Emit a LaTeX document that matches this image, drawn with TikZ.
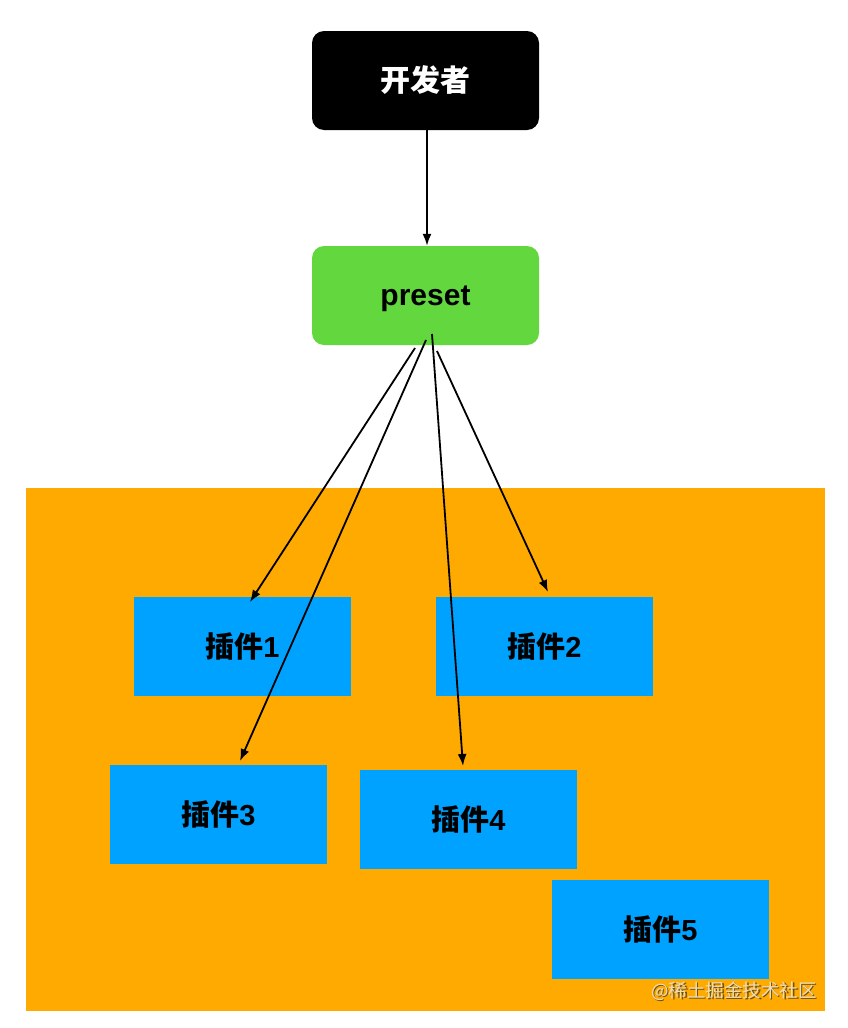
\documentclass[tikz,border=0pt]{standalone}
\usepackage{fontspec}
\setmainfont{Liberation Sans}
\newfontfamily\cjk{Noto Sans CJK SC}
\usetikzlibrary{arrows.meta}
\definecolor{orangebg}{RGB}{255,170,0}
\definecolor{bluebox}{RGB}{0,162,255}
\definecolor{greenbox}{RGB}{98,215,62}
\definecolor{wmlight}{RGB}{238,220,180}
\definecolor{wmdark}{RGB}{110,80,20}
\tikzset{
  box/.style={minimum width=227pt, minimum height=99pt, rounded corners=12pt, inner sep=0pt, font=\fontsize{30}{32}\selectfont\bfseries},
  plug/.style={fill=bluebox, minimum width=217pt, minimum height=99pt, inner sep=0pt, font=\fontsize{29}{31}\selectfont\bfseries},
  arr/.style={line width=1.8pt, -{Latex[length=12pt,width=9pt]}},
}
\begin{document}
\begin{tikzpicture}[x=1pt,y=-1pt]
\useasboundingbox (0,0) rectangle (848,1028);
\fill[white] (0,0) rectangle (848,1028);
\fill[orangebg] (26,488) rectangle (825,1011);

\node[box, fill=black, text=white] (dev) at (425.5,80.5) {\cjk\bfseries 开发者};
\node[box, fill=greenbox, text=black, text depth=0pt] (preset) at (425.5,295.5) {preset};

\node[plug] (p1) at (242.5,646) {{\cjk\bfseries 插件}1};
\node[plug] (p2) at (544.5,646) {{\cjk\bfseries 插件}2};
\node[plug] (p3) at (218.5,814) {{\cjk\bfseries 插件}3};
\node[plug] (p4) at (468.5,819.5) {{\cjk\bfseries 插件}4};
\node[plug] (p5) at (660.5,929.5) {{\cjk\bfseries 插件}5};

\coordinate (s1) at (415,348);
\coordinate (s3) at (426,340);
\coordinate (s4) at (432,334);
\coordinate (s2) at (437,351);
\coordinate (e1) at (250,602);
\coordinate (e3) at (240,761);
\coordinate (e4) at (463,766);
\coordinate (e2) at (548,592);

\draw[arr] (dev.south -| 427,0) -- (preset.north -| 427,0);
\draw[arr] (s1) -- (e1);
\draw[arr] (s3) -- (e3);
\draw[arr] (s4) -- (e4);
\draw[arr] (s2) -- (e2);

\node[text=wmdark, font=\cjk\fontsize{18.5}{20}\selectfont, anchor=east] (wmshadow) at (822,992.5) {@稀土掘金技术社区};
\node[text=wmlight, font=\cjk\fontsize{18.5}{20}\selectfont, anchor=east] (wm) at (820.5,991) {@稀土掘金技术社区};
\end{tikzpicture}
\end{document}
